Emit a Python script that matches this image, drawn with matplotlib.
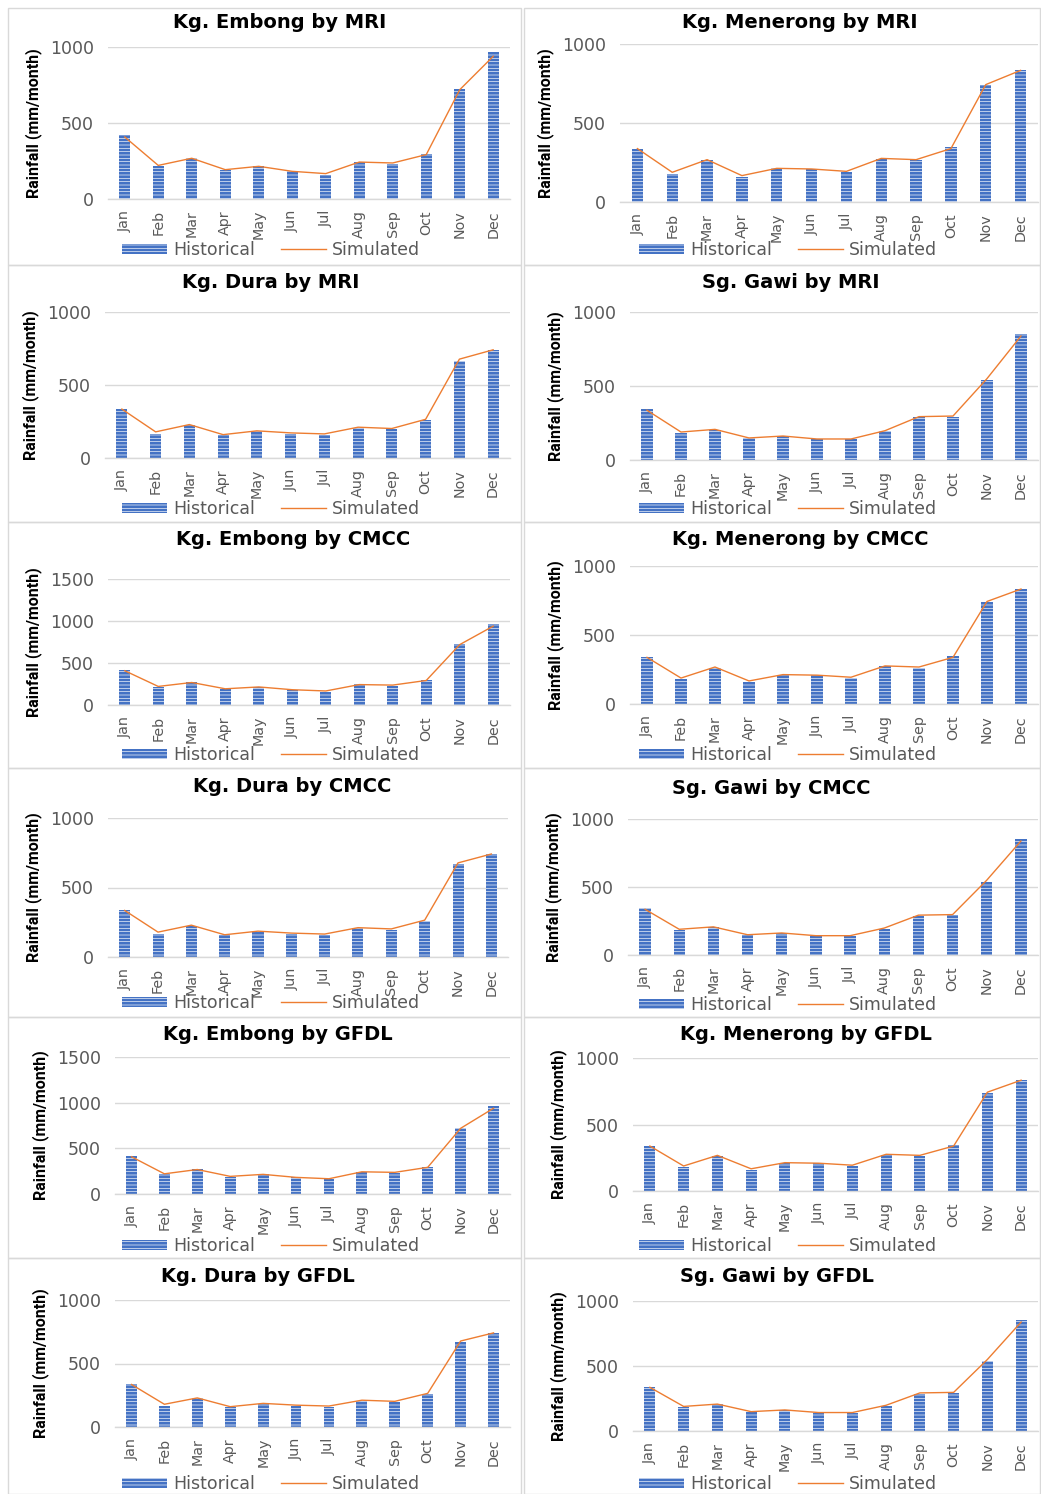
import matplotlib
matplotlib.use("Agg")
import matplotlib.pyplot as plt
from matplotlib.patches import Rectangle, Patch
from matplotlib.lines import Line2D
import matplotlib.font_manager as fm

plt.rcParams['hatch.linewidth'] = 0.45

# ---------------- data ----------------
months = ["Jan", "Feb", "Mar", "Apr", "May", "Jun", "Jul", "Aug", "Sep", "Oct", "Nov", "Dec"]

hist_embong = [419, 215, 272, 189, 219, 184, 160, 246, 230, 298, 724, 965]
sim_embong = [408, 221, 268, 193, 215, 182, 167, 243, 237, 292, 719, 939]

hist_menerong = [338, 179, 264, 158, 213, 209, 188, 272, 264, 346, 738, 833]
sim_menerong = [338, 188, 268, 167, 213, 209, 194, 276, 268, 338, 743, 833]

hist_dura = [339, 167, 225, 156, 183, 167, 160, 206, 197, 257, 667, 741]
sim_dura = [335, 179, 229, 160, 186, 172, 165, 211, 202, 265, 677, 741]

hist_gawi = [342, 182, 205, 146, 162, 140, 140, 194, 288, 293, 538, 854]
sim_gawi = [336, 189, 207, 149, 162, 142, 142, 198, 293, 297, 550, 838]

titles = ["Kg. Embong by MRI", "Kg. Menerong by MRI",
          "Kg. Dura by MRI", "Sg. Gawi by MRI",
          "Kg. Embong by CMCC", "Kg. Menerong by CMCC",
          "Kg. Dura by CMCC", "Sg. Gawi by CMCC",
          "Kg. Embong by GFDL", "Kg. Menerong by GFDL",
          "Kg. Dura by GFDL", "Sg. Gawi by GFDL"]
panel_hist = [hist_embong, hist_menerong, hist_dura, hist_gawi] * 3
panel_sim = [sim_embong, sim_menerong, sim_dura, sim_gawi] * 3
panel_ymax = [1000, 1000, 1000, 1000, 1500, 1000, 1000, 1000, 1500, 1000, 1000, 1000]

# ---------------- layout (pixels) ----------------
W, H = 1041, 1494
# plot area: x0, x1, y_top, y_bottom
plot_boxes = [
    (108, 510, 47, 199), (620, 1038, 44, 202),
    (105, 510, 312, 458), (630, 1038, 312, 460),
    (108, 510, 579, 705), (630, 1038, 566, 704),
    (108, 508, 818, 957), (628, 1038, 819, 955),
    (115, 510, 1057, 1194), (633, 1038, 1058, 1191),
    (115, 510, 1300, 1427), (633, 1038, 1301, 1431),
]
title_pos = [(280, 22), (800, 22), (271, 282), (791, 282), (293, 539), (800, 539),
             (292, 786), (771, 789), (278, 1034), (806, 1034), (258, 1276), (777, 1276)]
legend_pos = [(271, 250), (788, 250), (271, 509), (788, 509), (271, 755), (788, 755),
              (271, 1003), (788, 1005), (271, 1246), (788, 1246), (271, 1484), (788, 1484)]
row_edges = [8, 265, 522, 768, 1017, 1258, 1494]
col_edges = [(8, 521), (524, 1040)]

BLUE = "#4472C4"
ORANGE = "#ED7D31"
GREY = "#595959"
GRID = "#D9D9D9"

names = {f.name for f in fm.fontManager.ttflist}
tick_font = ["DejaVu Sans"]
ylab_font = ["Liberation Sans Narrow", "Roboto", "DejaVu Sans"] if "Liberation Sans Narrow" in names else ["Roboto", "DejaVu Sans"]

fig = plt.figure(figsize=(W / 100, H / 100), dpi=100)
fig.patch.set_facecolor("white")

# panel borders
for r in range(6):
    for (cx0, cx1) in col_edges:
        y0, y1 = row_edges[r], row_edges[r + 1]
        fig.add_artist(Rectangle((cx0 / W, 1 - y1 / H), (cx1 - cx0) / W, (y1 - y0) / H,
                                 transform=fig.transFigure, fill=False,
                                 edgecolor=GRID, linewidth=1.0))

x = list(range(12))
for i in range(12):
    x0, x1, yt, yb = plot_boxes[i]
    ax = fig.add_axes([x0 / W, 1 - yb / H, (x1 - x0) / W, (yb - yt) / H])
    ax.bar(x, panel_hist[i], width=0.33, color=BLUE, edgecolor="white",
           linewidth=0, hatch="-----", zorder=2)
    ax.plot(x, panel_sim[i], color=ORANGE, linewidth=1.0, zorder=3)
    ymax = panel_ymax[i]
    ax.set_ylim(0, ymax)
    ax.set_xlim(-0.5, 11.5)
    ax.set_yticks(list(range(0, ymax + 1, 500)))
    ax.set_xticks(x)
    ax.set_xticklabels(months, rotation=90, fontfamily=tick_font, fontsize=10.3, color=GREY)
    for lab in ax.get_yticklabels():
        lab.set_fontfamily(tick_font)
        lab.set_fontsize(12.5)
        lab.set_color(GREY)
    ax.tick_params(axis="both", length=0)
    ax.tick_params(axis="y", pad=10)
    ax.tick_params(axis="x", pad=8)
    ax.grid(axis="y", color=GRID, linewidth=1.0, zorder=0)
    ax.set_axisbelow(True)
    for s in ["top", "right", "left"]:
        ax.spines[s].set_visible(False)
    ax.spines["bottom"].set_color(GRID)
    ax.spines["bottom"].set_linewidth(1.0)
    ax.set_ylabel("Rainfall (mm/month)", fontfamily=ylab_font, fontweight="bold",
                  fontsize=11.5, color="black", labelpad=6)

    tx, ty = title_pos[i]
    fig.text(tx / W, 1 - ty / H, titles[i], ha="center", va="center",
             fontsize=14, fontweight="bold", color="black", family=["DejaVu Sans"])

    lx, ly = legend_pos[i]
    handles = [Patch(facecolor=BLUE, edgecolor="white", linewidth=0, hatch="-----"),
               Line2D([0], [0], color=ORANGE, linewidth=1.0)]
    ax.legend(handles, ["Historical", "Simulated"], loc="center",
              bbox_to_anchor=(lx / W, 1 - ly / H), bbox_transform=fig.transFigure,
              ncol=2, frameon=False, handlelength=2.6, handleheight=0.5,
              columnspacing=1.5, handletextpad=0.35, borderpad=0.0,
              prop={"family": tick_font, "size": 12.5}, labelcolor=GREY)

fig.savefig("out.png", dpi=100, facecolor="white")
